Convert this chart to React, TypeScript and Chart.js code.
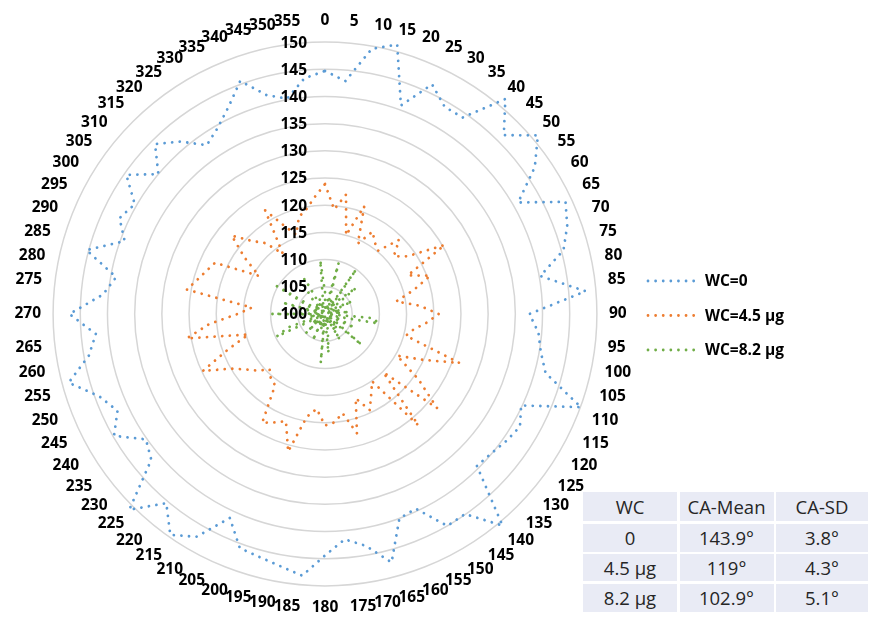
import React, { useEffect, useRef } from 'react';
import { Chart, registerables } from 'chart.js';

Chart.register(...registerables);

const FONT = '"Open Sans", "Noto Sans", sans-serif';

const categories = [
  '0', '5', '10', '15', '20', '25', '30', '35', '40', '45', '50', '55',
  '60', '65', '70', '75', '80', '85', '90', '95', '100', '105', '110', '115',
  '120', '125', '130', '135', '140', '145', '150', '155', '160', '165', '170', '175',
  '180', '185', '190', '195', '200', '205', '210', '215', '220', '225', '230', '235',
  '240', '245', '250', '255', '260', '265', '270', '275', '280', '285', '290', '295',
  '300', '305', '310', '315', '320', '325', '330', '335', '340', '345', '350', '355',
];

const wc0 = [
  144.7, 143, 149.5, 151.3, 140.8, 146.6, 144, 144.1, 151.6, 146.5, 151.1, 147.1,
  141, 148.8, 147.4, 145.4, 140.2, 148.1, 137.6, 139.4, 140.3, 142, 150.1, 139.8,
  141.4, 140.7, 139.9, 139.5, 150.8, 144.9, 145, 139.5, 140, 147.3, 143.3, 141.6,
  144.4, 148.3, 147.1, 146.3, 145.8, 141.4, 147.3, 149.6, 145.4, 150.9, 141.7, 140.2,
  144.8, 142.1, 144.2, 148.8, 144.1, 142.3, 147, 141, 139, 145.4, 139.2, 141.7,
  140.4, 144.6, 140, 144.2, 141.4, 137.9, 139.5, 142, 145.6, 141.7, 140.2, 143.5,
];

const wc45 = [
  123.9, 119.3, 122.3, 115, 121.1, 114.3, 117.5, 116, 115.2, 119.3, 116.5, 118.5,
  125.4, 116.8, 120.6, 116.8, 113.3, 117.5, 120.9, 118.7, 116.5, 115.4, 126.3, 120,
  115.3, 121, 126.9, 115.2, 126.7, 115.1, 117, 119.5, 116.5, 122.7, 118.5, 120,
  120.5, 117.5, 119.2, 126.2, 121, 122, 123.1, 116, 115.5, 114.4, 116.2, 117.8,
  120.1, 124.8, 118.9, 114.6, 125.8, 121.4, 116.1, 113.5, 125.8, 124.3, 123.2, 122.3,
  114, 118, 122.4, 119, 117, 113.5, 122, 118, 115.5, 118.5, 119.6, 121.6,
];

const wc82 = [
  104, 100.5, 102, 109.7, 101, 103, 100.5, 110, 101.5, 104, 107.5, 100.5,
  102.5, 105.5, 100.5, 103, 101, 104.5, 100.5, 108.9, 110, 101, 103, 106,
  100.5, 102, 108.8, 101, 103.5, 101, 105.5, 100.5, 102, 100.5, 103, 107.2,
  100.5, 109, 101, 103, 100.5, 105.4, 100.5, 102.5, 100.5, 105, 101, 103,
  100.5, 109.8, 107.2, 100.5, 103, 101, 109.8, 101, 102, 108.2, 100.5, 103,
  110.2, 100.5, 102.5, 100.5, 104, 107.1, 107.5, 100.5, 103, 101, 102, 109.9,
];

const radialTicks = [100, 105, 110, 115, 120, 125, 130, 135, 140, 145, 150];

const seriesNames = ['WC=0', 'WC=4.5 μg', 'WC=8.2 μg'];
const seriesColors = ['#5B9BD5', '#ED7D31', '#70AD47'];

const tableHeader = ['WC', 'CA-Mean', 'CA-SD'];
const tableRows = [
  ['0', '143.9°', '3.8°'],
  ['4.5 μg', '119°', '4.3°'],
  ['8.2 μg', '102.9°', '5.1°'],
];

const DASH = [0.01, 7.6];
const LINE_W = 2.8;

const tickLabelPlugin = {
  id: 'tickLabelPlugin',
  afterDatasetsDraw(chart: any) {
    const s = chart.scales.r;
    const ctx = chart.ctx;
    ctx.save();
    ctx.font = `bold 15.5px ${FONT}`;
    ctx.fillStyle = '#000';
    ctx.textAlign = 'right';
    ctx.textBaseline = 'middle';
    radialTicks.forEach((v) => {
      const d = s.getDistanceFromCenterForValue(v);
      ctx.fillText(String(v), s.xCenter - 18, s.yCenter - d + 1);
    });
    ctx.restore();
  },
};

const legendPlugin = {
  id: 'legendPlugin',
  afterDraw(chart: any) {
    const ctx = chart.ctx;
    ctx.save();
    chart.data.datasets.forEach((ds: any, i: number) => {
      const y = 281 + i * 34.5;
      ctx.beginPath();
      ctx.strokeStyle = ds.borderColor;
      ctx.lineWidth = LINE_W;
      ctx.lineCap = 'round';
      ctx.setLineDash(DASH);
      ctx.moveTo(648, y);
      ctx.lineTo(696, y);
      ctx.stroke();
      ctx.setLineDash([]);
      ctx.font = `bold 15.5px ${FONT}`;
      ctx.fillStyle = '#000';
      ctx.textAlign = 'left';
      ctx.textBaseline = 'middle';
      ctx.fillText(ds.label, 705, y + 1);
    });
    ctx.restore();
  },
};

export default function App() {
  const ref = useRef<HTMLCanvasElement | null>(null);

  useEffect(() => {
    if (!ref.current) return;
    const series = [wc0, wc45, wc82];
    const chart = new Chart(ref.current, {
      type: 'radar',
      data: {
        labels: categories,
        datasets: series.map((d, i) => ({
          label: seriesNames[i],
          data: d,
          borderColor: seriesColors[i],
          backgroundColor: 'transparent',
          borderWidth: LINE_W,
          borderDash: DASH,
          borderCapStyle: 'round',
          borderJoinStyle: 'round',
          fill: false,
          pointRadius: 0,
          pointHoverRadius: 0,
          tension: 0,
        })),
      },
      options: {
        responsive: false,
        animation: false,
        layout: { padding: { left: 10, right: 234, top: 12.5, bottom: 1.5 } },
        plugins: {
          legend: { display: false },
          tooltip: { enabled: false },
        },
        scales: {
          r: {
            min: 100,
            max: 150,
            afterBuildTicks: (scale: any) => {
              scale.ticks = radialTicks.map((v) => ({ value: v }));
            },
            ticks: { display: false, stepSize: 5 },
            grid: { circular: true, color: '#d6d6d6', lineWidth: 1.5 },
            angleLines: { display: false },
            pointLabels: {
              color: '#000',
              padding: 12,
              font: { family: FONT, size: 15.5, weight: 'bold' },
            },
          },
        },
      },
      plugins: [tickLabelPlugin, legendPlugin],
    } as any);
    return () => chart.destroy();
  }, []);

  const cell = (txt: string, key: string) => (
    <div
      key={key}
      style={{
        background: '#E9EBF5',
        display: 'flex',
        alignItems: 'center',
        justifyContent: 'center',
        fontFamily: FONT,
        fontSize: 18.5,
        color: '#262626',
      }}
    >
      {txt}
    </div>
  );

  return (
    <div style={{ position: 'fixed', left: 0, top: 0, width: 870, height: 619, background: '#fff' }}>
      <canvas ref={ref} width={870} height={619} style={{ position: 'absolute', left: 0, top: 0, width: 870, height: 619 }} />
      <div
        style={{
          position: 'absolute',
          left: 583,
          top: 492,
          display: 'grid',
          gridTemplateColumns: '94px 94px 92px',
          gridTemplateRows: '29px 28px 27px 28px',
          gap: '2.5px',
          background: '#fff',
        }}
      >
        {tableHeader.map((t, i) => cell(t, 'h' + i))}
        {tableRows.map((r, ri) => r.map((t, ci) => cell(t, `r${ri}c${ci}`)))}
      </div>
    </div>
  );
}
